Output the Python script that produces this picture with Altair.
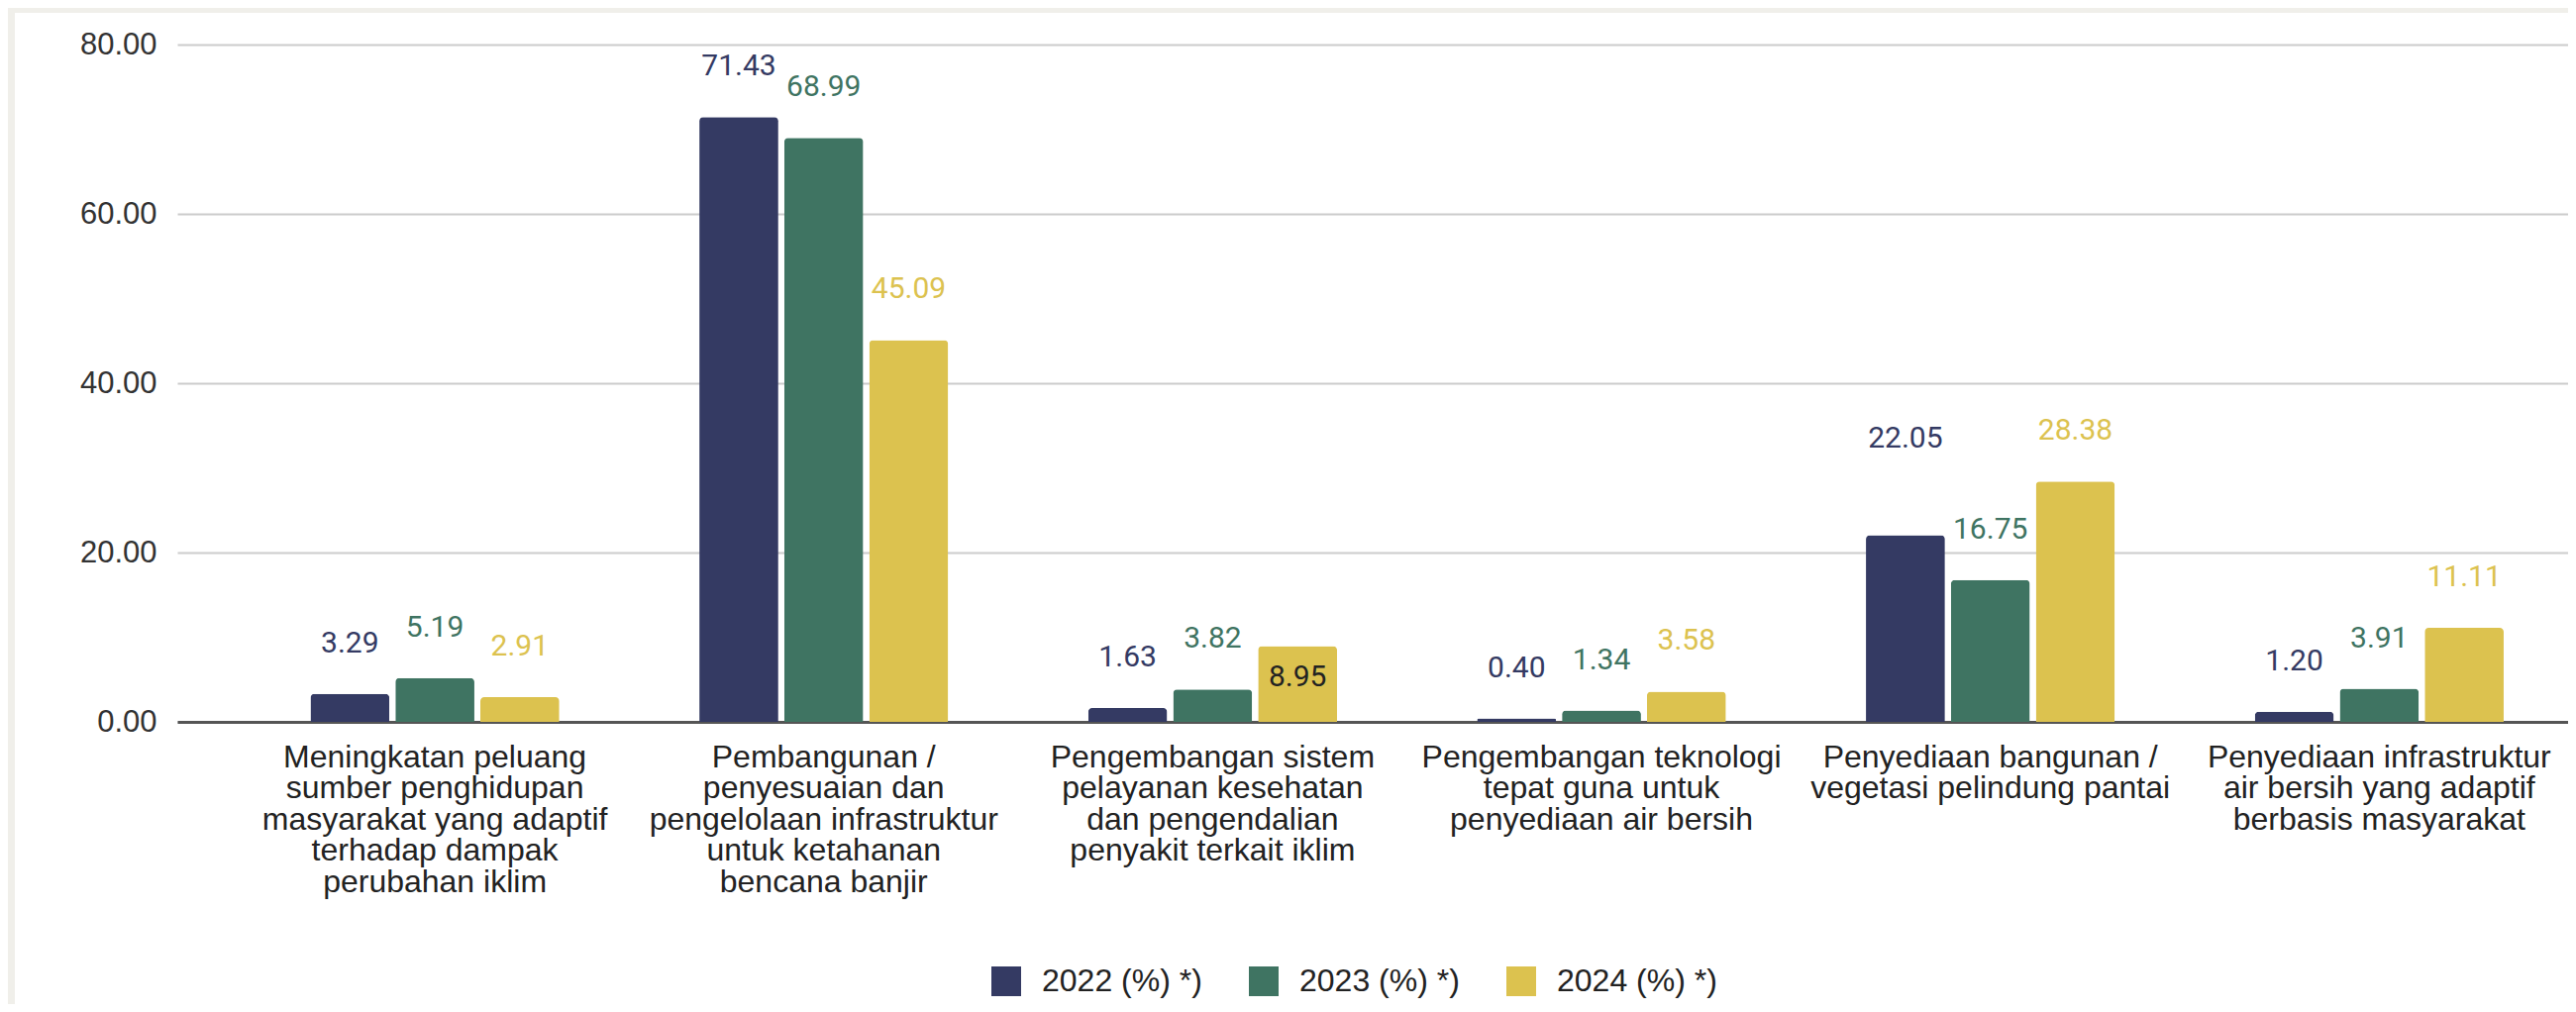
import altair as alt
import pandas as pd

categories = [
    "Meningkatan peluang\nsumber penghidupan\nmasyarakat yang adaptif\nterhadap dampak\nperubahan iklim",
    "Pembangunan /\npenyesuaian dan\npengelolaan infrastruktur\nuntuk ketahanan\nbencana banjir",
    "Pengembangan sistem\npelayanan kesehatan\ndan pengendalian\npenyakit terkait iklim",
    "Pengembangan teknologi\ntepat guna untuk\npenyediaan air bersih",
    "Penyediaan bangunan /\nvegetasi pelindung pantai",
    "Penyediaan infrastruktur\nair bersih yang adaptif\nberbasis masyarakat",
]
series = ["2022 (%) *)", "2023 (%) *)", "2024 (%) *)"]
v2022 = [3.29, 71.43, 1.63, 0.40, 22.05, 1.20]
v2023 = [5.19, 68.99, 3.82, 1.34, 16.75, 3.91]
v2024 = [2.91, 45.09, 8.95, 3.58, 28.38, 11.11]
y_ticks = [0, 20, 40, 60, 80]
colors = ["#343a63", "#3f7462", "#dcc24f"]

rows = []
for s, vals in zip(series, [v2022, v2023, v2024]):
    for i, (c, v) in enumerate(zip(categories, vals)):
        rows.append({"category": c, "cat_idx": i, "year": s, "value": v})
df = pd.DataFrame(rows)

W, H = 2414, 684
PAD_L, PAD_T = 171, 37
PAD_B = 1022 - 16 - PAD_T - H

x_enc = alt.X(
    "category:N",
    sort=categories,
    scale=alt.Scale(paddingInner=0.36, paddingOuter=0.254, align=0.674),
    axis=alt.Axis(
        title=None,
        labelExpr="split(datum.label, '\\n')",
        labelAngle=0,
        labelFont="Liberation Sans",
        labelFontSize=32,
        labelLineHeight=31.5,
        labelColor="#222222",
        labelPadding=20,
        labelLimit=1000,
        labelOverlap=False,
        ticks=False,
        domainColor="#555555",
        domainWidth=3,
        grid=False,
    ),
)
xoff = alt.XOffset("year:N", sort=series, scale=alt.Scale(paddingInner=0.07, paddingOuter=0))
y_enc = alt.Y(
    "value:Q",
    scale=alt.Scale(domain=[0, 80], nice=False),
    axis=alt.Axis(
        title=None,
        values=y_ticks,
        format=".2f",
        labelFont="Liberation Sans",
        labelFontSize=31,
        labelColor="#333333",
        labelPadding=21,
        ticks=False,
        domain=False,
        gridColor="#cccccc",
        gridWidth=2,
    ),
)
color_scale = alt.Scale(domain=series, range=colors)

base = alt.Chart(df)

bars = base.mark_bar(cornerRadiusTopLeft=4, cornerRadiusTopRight=4).encode(
    x=x_enc,
    xOffset=xoff,
    y=y_enc,
    color=alt.Color(
        "year:N",
        scale=color_scale,
        sort=series,
        legend=alt.Legend(
            title=None,
            orient="none",
            direction="horizontal",
            legendX=821,
            legendY=930,
            symbolType="square",
            symbolSize=900,
            symbolStrokeWidth=0,
            symbolOpacity=1,
            labelFont="Liberation Sans",
            labelFontSize=32,
            labelColor="#222222",
            labelOffset=20,
            labelLimit=1000,
            columnPadding=46,
            padding=0,
        ),
    ),
)

special_raise = "datum.cat_idx == 4 && datum.year == '2022 (%) *)'"
special_inside = "datum.cat_idx == 2 && datum.year == '2024 (%) *)'"

def label_layer(flt, dy, color=None):
    enc = dict(
        x=alt.X("category:N", sort=categories),
        xOffset=alt.XOffset("year:N", sort=series),
        y=alt.Y("value:Q"),
        text=alt.Text("value:Q", format=".2f"),
    )
    if color is None:
        enc["color"] = alt.Color("year:N", scale=color_scale, legend=None)
    mk = dict(font="Roboto", fontSize=30, baseline="middle", align="center", dy=dy)
    if color is not None:
        mk["color"] = color
    return base.transform_filter(flt).mark_text(**mk).encode(**enc)

labels_normal = label_layer(f"!({special_raise}) && !({special_inside})", -51)
labels_raise = label_layer(special_raise, -97)
labels_inside = label_layer(special_inside, 32, color="#222222")

frame_df = pd.DataFrame({"k": [0]})
gray = "#f0efea"
top_strip = alt.Chart(frame_df).mark_rect(color=gray).encode(
    x=alt.value(-PAD_L), x2=alt.value(W), y=alt.value(-PAD_T), y2=alt.value(-32)
)
left_strip = alt.Chart(frame_df).mark_rect(color=gray).encode(
    x=alt.value(-PAD_L), x2=alt.value(-164), y=alt.value(-PAD_T), y2=alt.value(H + PAD_B)
)

chart = alt.layer(top_strip, left_strip, bars, labels_normal, labels_raise, labels_inside).properties(
    width=W,
    height=H,
    padding={"left": PAD_L, "top": PAD_T, "right": 0, "bottom": PAD_B},
    autosize=alt.AutoSizeParams(type="none"),
    background="white",
).configure_view(stroke=None)

chart.save("out.html", embed_options={"renderer": "svg", "actions": False})
